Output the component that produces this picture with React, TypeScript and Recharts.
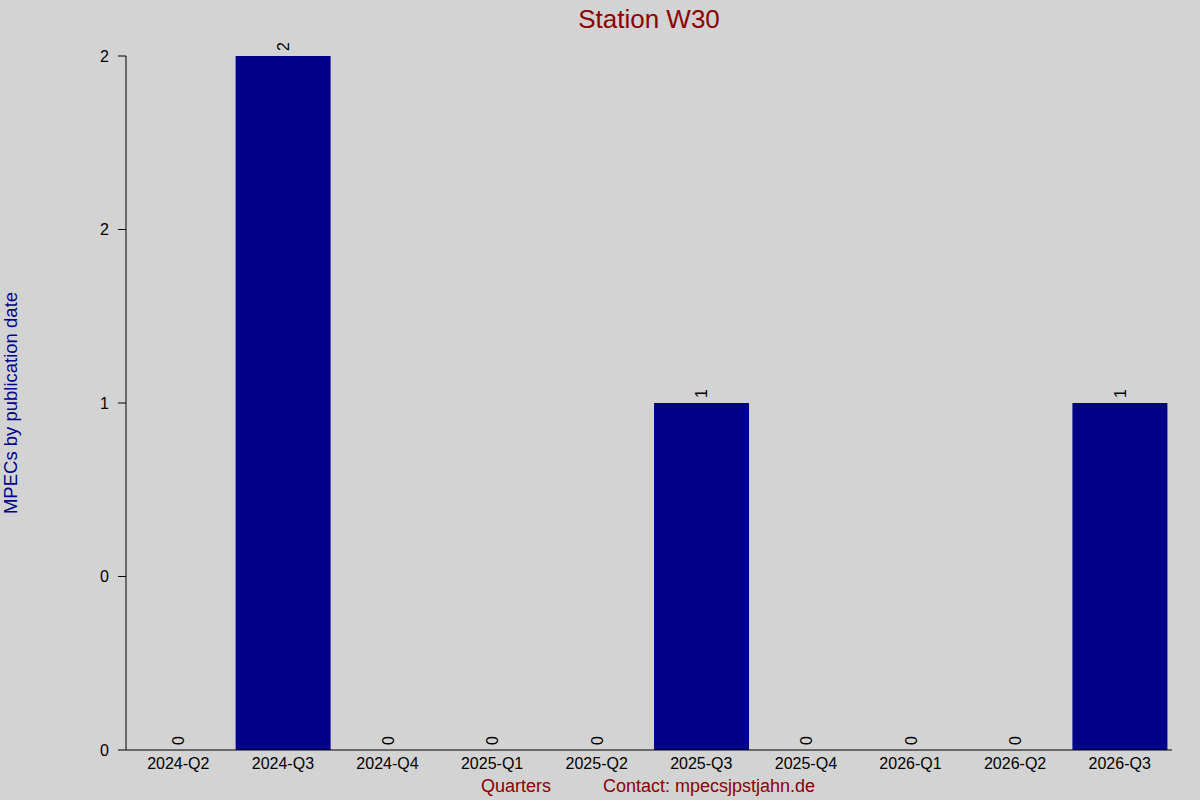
import { Bar, ComposedChart, LabelList, Line, XAxis, YAxis } from "recharts";

const quarters = [
  "2024-Q2",
  "2024-Q3",
  "2024-Q4",
  "2025-Q1",
  "2025-Q2",
  "2025-Q3",
  "2025-Q4",
  "2026-Q1",
  "2026-Q2",
  "2026-Q3",
];
const mpecCounts = [0, 2, 0, 0, 0, 1, 0, 0, 0, 1];
const yTicks = [0, 0.5, 1, 1.5, 2];
const yTickLabels = ["0", "0", "1", "2", "2"];

const data = quarters.map((q, i) => ({ quarter: q, count: mpecCounts[i] }));

const FONT = "'Liberation Sans', Arial, sans-serif";

// value labels sit above each bar top, turned upright like the original
function ValueLabel(props: any) {
  const { x, y, value } = props;
  const px = Number(x) + 6;
  const py = Number(y) - 5;
  return (
    <text
      x={px}
      y={py}
      transform={`rotate(-90 ${px} ${py})`}
      textAnchor="start"
      fontSize={16}
      fontFamily={FONT}
      fill="#000"
    >
      {value}
    </text>
  );
}

export default function App() {
  return (
    <div
      style={{
        position: "absolute",
        left: 0,
        top: 0,
        width: 1200,
        height: 800,
        background: "#d3d3d3",
        fontFamily: FONT,
      }}
    >
      <ComposedChart
        width={1200}
        height={800}
        data={data}
        margin={{ top: 56, right: 28, bottom: 0, left: 0 }}
        barCategoryGap="4.8%"
      >
        <XAxis
          dataKey="quarter"
          height={50}
          tickLine={false}
          tickSize={0}
          tickMargin={8}
          axisLine={{ stroke: "#000" }}
          tick={{ fill: "#000", fontSize: 16, fontFamily: FONT }}
          interval={0}
        />
        <XAxis
          xAxisId="top"
          dataKey="quarter"
          orientation="top"
          height={0}
          axisLine={false}
          tick={() => <g />}
          tickSize={1}
          tickLine={{ stroke: "#000" }}
          interval={0}
        />
        <YAxis
          width={126}
          domain={[0, 2]}
          ticks={yTicks}
          tickSize={8}
          tickMargin={9}
          tickLine={{ stroke: "#000" }}
          axisLine={{ stroke: "#000" }}
          tick={{ fill: "#000", fontSize: 16, fontFamily: FONT }}
          tickFormatter={(v: number) => yTickLabels[yTicks.indexOf(v)] ?? String(v)}
        />
        <Bar dataKey="count" fill="#00008b" isAnimationActive={false} />
        <Line
          dataKey="count"
          stroke="none"
          dot={false}
          activeDot={false}
          isAnimationActive={false}
        >
          <LabelList dataKey="count" content={ValueLabel} />
        </Line>
      </ComposedChart>
      <svg
        width={1200}
        height={800}
        style={{ position: "absolute", left: 0, top: 0, pointerEvents: "none" }}
      >
        <text x={649} y={28} textAnchor="middle" fontSize={26} fill="#8b0000" fontFamily={FONT}>
          Station W30
        </text>
        <text
          x={17}
          y={403}
          transform="rotate(-90 17 403)"
          textAnchor="middle"
          fontSize={18.5}
          fill="#00008b"
          fontFamily={FONT}
        >
          MPECs by publication date
        </text>
        <text x={481} y={792} fontSize={18} fill="#8b0000" fontFamily={FONT}>
          Quarters
        </text>
        <text x={603} y={792} fontSize={18} fill="#8b0000" fontFamily={FONT}>
          Contact: mpecsjpstjahn.de
        </text>
      </svg>
    </div>
  );
}
